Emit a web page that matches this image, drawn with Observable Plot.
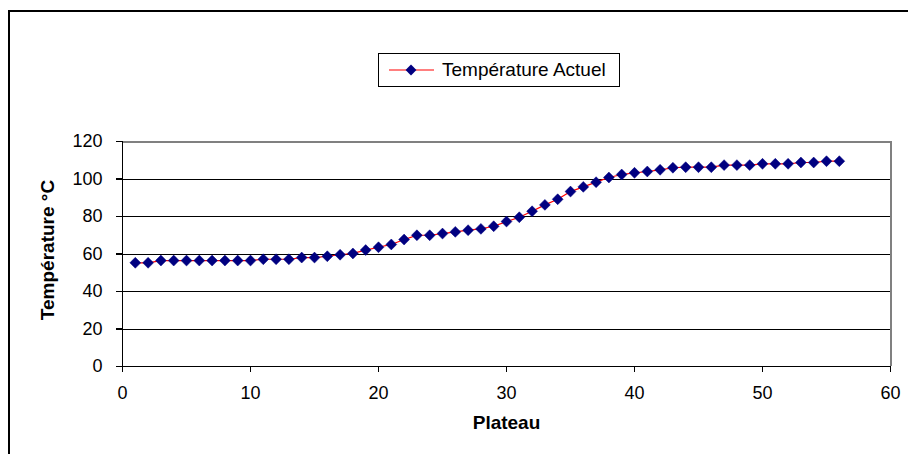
<!DOCTYPE html>
<html>
<head>
<meta charset="utf-8">
<script src="https://cdn.jsdelivr.net/npm/d3@7"></script>
<script src="https://cdn.jsdelivr.net/npm/@observablehq/plot@0.6"></script>
<style>
  html, body { margin: 0; padding: 0; background: #fff; overflow: hidden; }
  #chart { position: relative; width: 908px; height: 454px; font-family: "Liberation Sans", Arial, sans-serif; }
  #outer { position: absolute; left: 8px; top: 10px; width: 940px; height: 480px;
           border-left: 2px solid #000; border-top: 2px solid #000; box-sizing: border-box; }
  #legend { position: absolute; left: 378px; top: 53px; width: 242px; height: 34px;
            border: 1px solid #000; box-sizing: border-box; background: #fff;
            display: flex; align-items: center; }
  #legend svg { flex: none; }
  #legend span { font-size: 19px; color: #000; margin-left: 5px; white-space: nowrap; }
  #plot { position: absolute; left: 0; top: 0; }
</style>
</head>
<body>
<div id="chart">
  <div id="outer"></div>
  <div id="plot"></div>
  <div id="legend"></div>
</div>
<script>
// Plateau numbers along the column
const plateaux = [
  1, 2, 3, 4, 5, 6, 7, 8, 9, 10, 11, 12, 13, 14, 15, 16, 17, 18, 19, 20,
  21, 22, 23, 24, 25, 26, 27, 28, 29, 30, 31, 32, 33, 34, 35, 36, 37, 38, 39, 40,
  41, 42, 43, 44, 45, 46, 47, 48, 49, 50, 51, 52, 53, 54, 55, 56
];
// Measured temperature on each plateau (°C)
const temperatures = [
  55.3, 55.3, 56.5, 56.5, 56.5, 56.5, 56.5, 56.5, 56.5, 56.5,
  57.2, 57.2, 57.2, 58.1, 58.1, 58.8, 59.6, 60.3, 62.1, 63.6,
  65.1, 67.7, 70.0, 70.0, 70.9, 71.8, 72.7, 73.4, 74.8, 77.3,
  79.6, 82.8, 86.2, 89.2, 93.3, 95.8, 98.3, 100.8, 102.4, 103.3,
  104.0, 104.9, 106.0, 106.3, 106.3, 106.3, 107.4, 107.4, 107.4, 108.1,
  108.1, 108.1, 108.8, 108.8, 109.5, 109.5
];
const seriesName = "Température Actuel";
const xTicks = [0, 10, 20, 30, 40, 50, 60];
const yTicks = [0, 20, 40, 60, 80, 100, 120];
const xTitle = "Plateau";
const yTitle = "Température °C";

const rows = plateaux.map((p, i) => ({plateau: p, temp: temperatures[i]}));

const innerGrid = yTicks.filter(v => v > 0 && v < 120);
const crisp = {shapeRendering: "crispEdges"};

const plot = Plot.plot({
  width: 908,
  height: 454,
  marginLeft: 122,
  marginRight: 18,
  marginTop: 141,
  marginBottom: 88,
  style: {fontFamily: '"Liberation Sans", Arial, sans-serif', fontSize: "18px", color: "#000", background: "transparent"},
  x: {domain: [0, 60], ticks: xTicks},
  y: {domain: [0, 120], ticks: yTicks},
  marks: [
    // horizontal gridlines
    Plot.ruleY(innerGrid, {stroke: "#000", strokeWidth: 1, ...crisp}),
    // plot area border (top & right)
    Plot.ruleY([120], {stroke: "#808080", strokeWidth: 2, ...crisp}),
    Plot.ruleX([60], {stroke: "#808080", strokeWidth: 2, ...crisp}),
    // axes lines
    Plot.ruleY([0], {stroke: "#000", strokeWidth: 1.5, ...crisp}),
    Plot.ruleX([0], {stroke: "#000", strokeWidth: 1.5, ...crisp}),
    Plot.axisX(xTicks, {tickSize: 6, tickPadding: 14, label: null, stroke: "#000", strokeWidth: 1.5, fill: "#000", ...crisp}),
    Plot.axisY(yTicks, {tickSize: 6, tickPadding: 14, label: null, stroke: "#000", strokeWidth: 1.5, fill: "#000", ...crisp}),
    // series
    Plot.line(rows, {x: "plateau", y: "temp", stroke: "#ff0000", strokeWidth: 1.2}),
    Plot.dot(rows, {x: "plateau", y: "temp", symbol: "diamond2", r: 4.9, fill: "#000080", stroke: "#000080", strokeWidth: 0.5}),
    // axis titles
    Plot.text([xTitle], {frameAnchor: "bottom", dy: 62, fontWeight: "bold", fontSize: 19, fill: "#000"}),
    Plot.text([yTitle], {frameAnchor: "left", textAnchor: "middle", dx: -75, dy: -4, rotate: -90, fontWeight: "bold", fontSize: 19, fill: "#000"})
  ]
});
document.getElementById("plot").appendChild(plot);

// legend box: line + diamond sample and series name
const legend = d3.select("#legend");
const sw = legend.append("svg").attr("width", 58).attr("height", 32);
sw.append("line").attr("x1", 10).attr("x2", 55).attr("y1", 16).attr("y2", 16)
  .attr("stroke", "#ff0000").attr("stroke-width", 1.2);
sw.append("path").attr("transform", "translate(32,16)")
  .attr("d", d3.symbol(d3.symbolDiamond2, Math.PI * 4.9 * 4.9)())
  .attr("fill", "#000080");
legend.append("span").text(seriesName);
</script>
</body>
</html>
